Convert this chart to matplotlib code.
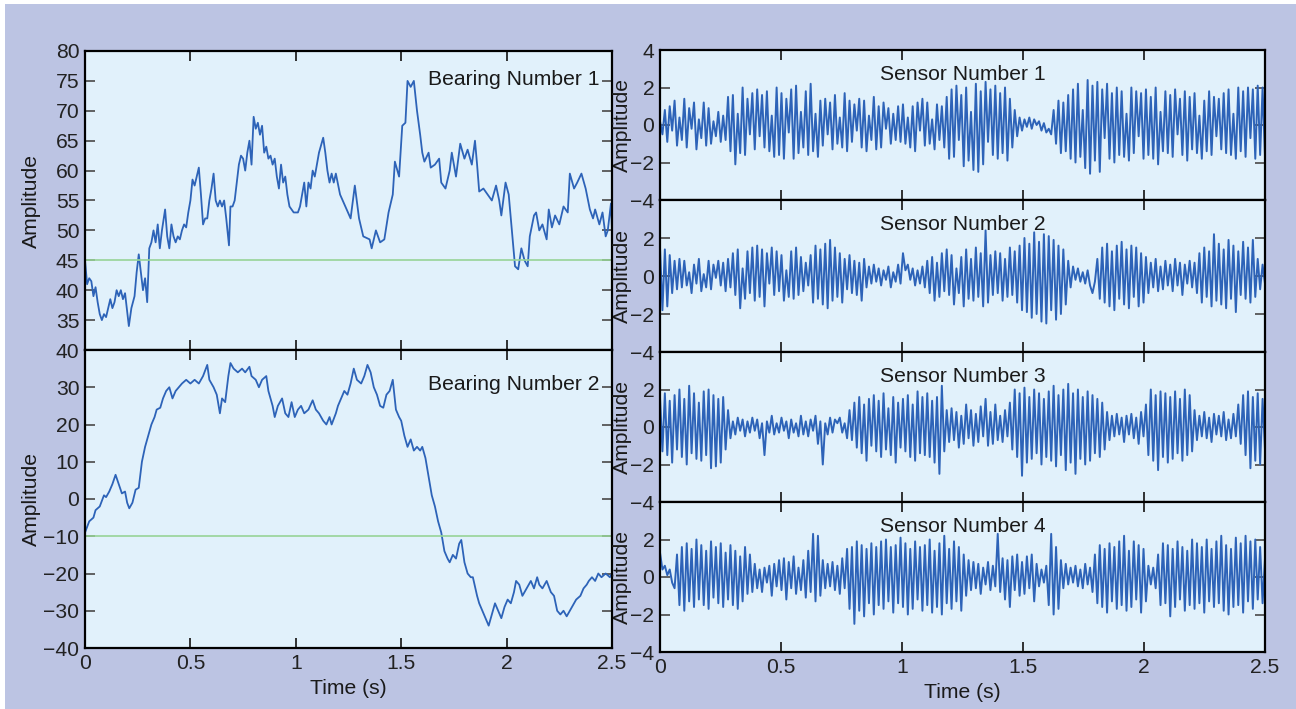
import matplotlib.pyplot as plt
import numpy as np
from matplotlib.patches import Rectangle

# leituras da figura: (tempo, amplitude)
bearing1 = [
    (0.00, 45), (0.01, 41), (0.02, 42), (0.03, 41.5), (0.04, 39), (0.05, 40.5), (0.06, 38), (0.07, 36),
    (0.08, 35), (0.09, 36), (0.10, 35.5), (0.11, 37), (0.12, 38.5), (0.13, 37), (0.14, 38), (0.15, 40),
    (0.16, 39), (0.17, 40), (0.18, 38.5), (0.19, 39.5), (0.208, 34), (0.22, 37), (0.235, 39), (0.245, 43),
    (0.255, 46), (0.265, 43), (0.275, 40), (0.285, 42), (0.295, 38), (0.305, 47), (0.315, 48), (0.325, 50),
    (0.335, 48), (0.345, 51), (0.355, 47), (0.365, 50), (0.38, 53.5), (0.39, 49), (0.40, 47), (0.41, 51),
    (0.42, 49), (0.43, 48), (0.44, 49), (0.45, 48.5), (0.46, 50), (0.47, 51), (0.48, 50.5), (0.49, 53),
    (0.50, 55), (0.51, 58.5), (0.52, 57.5), (0.53, 59), (0.54, 60.5), (0.55, 56), (0.56, 51), (0.57, 52),
    (0.58, 52), (0.59, 55), (0.60, 57), (0.61, 59.5), (0.62, 55), (0.63, 54), (0.64, 55), (0.65, 54),
    (0.66, 55), (0.67, 52), (0.683, 47.5), (0.69, 54), (0.70, 54), (0.71, 55), (0.72, 58), (0.73, 61),
    (0.74, 62.5), (0.75, 62), (0.76, 60), (0.77, 63), (0.78, 65), (0.79, 61), (0.80, 69), (0.81, 67),
    (0.82, 68), (0.83, 66), (0.84, 67.5), (0.85, 63), (0.86, 64), (0.87, 62), (0.88, 62.5), (0.89, 61),
    (0.90, 62), (0.91, 59), (0.92, 57), (0.93, 61), (0.94, 58), (0.95, 59), (0.96, 56), (0.97, 54),
    (0.99, 53), (1.01, 53), (1.02, 54), (1.03, 56), (1.04, 58), (1.05, 54), (1.06, 58), (1.07, 57),
    (1.08, 60), (1.09, 59), (1.10, 61), (1.11, 63), (1.13, 65.5), (1.14, 63), (1.15, 60), (1.16, 58),
    (1.17, 59.5), (1.18, 58), (1.19, 59.5), (1.21, 56), (1.235, 54), (1.26, 52), (1.28, 57.5), (1.30, 52),
    (1.32, 49), (1.35, 48.5), (1.36, 47), (1.38, 50), (1.40, 48), (1.42, 48.5), (1.44, 53), (1.46, 56),
    (1.47, 61.5), (1.49, 59), (1.505, 67.5), (1.52, 68), (1.53, 75), (1.545, 74), (1.56, 75), (1.575, 70),
    (1.59, 66), (1.60, 63), (1.61, 61.5), (1.63, 63), (1.64, 60.5), (1.66, 61), (1.68, 62), (1.69, 58),
    (1.71, 57), (1.73, 60), (1.74, 63), (1.76, 59), (1.78, 64.5), (1.80, 62), (1.815, 63.5), (1.835, 61),
    (1.85, 65), (1.86, 61), (1.87, 56.5), (1.89, 57), (1.91, 56), (1.93, 55), (1.95, 57.5), (1.965, 55),
    (1.975, 52.5), (1.995, 58), (2.01, 56), (2.03, 48), (2.04, 44), (2.055, 43.5), (2.07, 47), (2.085, 45),
    (2.10, 44), (2.11, 49), (2.13, 52.5), (2.14, 53), (2.155, 50), (2.17, 51), (2.19, 48.5), (2.20, 53.5),
    (2.215, 50.5), (2.23, 52.5), (2.25, 51), (2.27, 54), (2.29, 53), (2.30, 59.5), (2.32, 57), (2.335, 58),
    (2.355, 59.5), (2.375, 57), (2.395, 53.5), (2.41, 52), (2.42, 53.5), (2.44, 51), (2.455, 53), (2.47, 49),
    (2.48, 50), (2.495, 54.5), (2.50, 50),
]

bearing2 = [
    (0.00, -9), (0.02, -6), (0.04, -5), (0.05, -3), (0.07, -2), (0.09, 1), (0.10, 0.5), (0.115, 2),
    (0.13, 4), (0.145, 6.5), (0.16, 4), (0.175, 1.5), (0.19, 2), (0.20, -1), (0.21, -2.5), (0.225, -1),
    (0.24, 2.5), (0.255, 3), (0.27, 10), (0.285, 14), (0.30, 17), (0.315, 20), (0.33, 22), (0.34, 24),
    (0.357, 24.5), (0.37, 27), (0.385, 29), (0.40, 30), (0.415, 27), (0.43, 29), (0.445, 30), (0.46, 31),
    (0.48, 32), (0.50, 31), (0.52, 32), (0.54, 31), (0.56, 33), (0.58, 36), (0.59, 32), (0.61, 30),
    (0.625, 28), (0.64, 23), (0.65, 27), (0.665, 26), (0.68, 33), (0.69, 36.5), (0.705, 35), (0.725, 34),
    (0.745, 35), (0.76, 34), (0.78, 35.5), (0.79, 33), (0.81, 32), (0.825, 30), (0.84, 32), (0.86, 33),
    (0.87, 29), (0.89, 25), (0.90, 22), (0.915, 25), (0.935, 27), (0.95, 23), (0.965, 22), (0.98, 26),
    (0.995, 22), (1.01, 24), (1.025, 25), (1.04, 23), (1.06, 24), (1.08, 26.5), (1.095, 24), (1.11, 23),
    (1.13, 21), (1.145, 20), (1.16, 22), (1.17, 20), (1.19, 23), (1.20, 25), (1.215, 27), (1.23, 29),
    (1.245, 28), (1.26, 31), (1.275, 35), (1.29, 32), (1.31, 31), (1.325, 33), (1.34, 36), (1.355, 34),
    (1.37, 30), (1.385, 28), (1.40, 25), (1.415, 24.5), (1.43, 28), (1.445, 29), (1.46, 32), (1.475, 24),
    (1.49, 22), (1.50, 21), (1.515, 17), (1.53, 14), (1.545, 16), (1.56, 13), (1.575, 14), (1.59, 13),
    (1.60, 14), (1.615, 11), (1.63, 6), (1.645, 1), (1.66, -2), (1.675, -6), (1.69, -9), (1.705, -14),
    (1.72, -16), (1.73, -17), (1.745, -15), (1.76, -16), (1.775, -12), (1.785, -11), (1.80, -17), (1.815, -20),
    (1.83, -21), (1.84, -21), (1.86, -26), (1.87, -28), (1.885, -30), (1.90, -32), (1.915, -34), (1.93, -31),
    (1.945, -28), (1.96, -30), (1.975, -32), (1.99, -29), (2.005, -27), (2.02, -28), (2.035, -25), (2.045, -22),
    (2.06, -23), (2.075, -26), (2.095, -24), (2.115, -22), (2.13, -24), (2.145, -21), (2.155, -23), (2.17, -24),
    (2.19, -22), (2.21, -25), (2.225, -26), (2.24, -30), (2.255, -31), (2.27, -30), (2.285, -31.5), (2.30, -30),
    (2.31, -29), (2.33, -27), (2.35, -26), (2.365, -24), (2.38, -23), (2.39, -22), (2.405, -21), (2.42, -22),
    (2.435, -20), (2.45, -21), (2.47, -20), (2.49, -21), (2.50, -20),
]

limiar_b1 = 45
limiar_b2 = -10

# sensores: amostras, 10 por cada 0.1 s
sensor1 = [
    0.2, -0.5, 0.8, -0.9, 1.0, -0.3, 1.3, -1.1, 0.4, -0.8,
    1.4, -1.2, 0.9, -0.2, 1.2, -1.3, 0.3, -0.7, 1.2, -1.1,
    0.9, -1.0, 0.2, -0.6, 0.7, -0.9, 0.5, -0.8, 1.5, -1.4,
    1.6, -2.1, 0.6, -1.5, 2.0, -1.6, 1.4, -0.5, 1.7, -1.3,
    1.9, -0.6, 1.6, -1.2, 1.8, -1.4, 0.5, -1.7, 2.0, -1.6,
    1.7, -1.8, 1.4, -0.4, 1.9, -1.8, 2.1, -1.5, 0.7, -1.2,
    1.8, -1.6, 2.2, -1.4, 0.6, -1.7, 1.3, -1.1, 1.4, -0.5,
    1.2, -1.3, 1.6, -1.0, 0.4, -1.2, 1.7, -1.4, 1.3, -0.9,
    1.1, -0.3, 1.4, -1.2, 1.3, -1.4, 0.5, -0.8, 1.5, -1.3,
    1.0, -1.2, 1.2, -0.2, 0.9, -1.0, 0.6, -0.8, 1.0, -0.9,
    1.1, -1.0, 0.4, -1.2, 1.0, -1.4, 1.2, -0.3, 1.4, -1.1,
    1.2, -1.0, 0.3, -1.3, 1.1, -0.8, 1.0, -1.2, 1.5, -1.8,
    1.9, -1.7, 2.1, -0.8, 1.6, -2.2, 2.0, -1.9, 0.7, -2.4,
    2.2, -2.5, 1.8, -2.1, 2.3, -0.9, 1.9, -1.6, 2.1, -1.8,
    1.7, -1.5, 2.0, -1.9, 1.4, -1.2, 0.8, -0.6, 0.4, -0.3,
    0.3, -0.1, 0.4, -0.2, 0.3, 0.0, 0.2, -0.3, 0.1, -0.4,
    -0.2, -0.5, 0.8, -1.0, 1.3, -1.5, 1.2, -1.4, 1.6, -1.8,
    1.9, -2.0, 2.2, -1.7, 0.8, -2.3, 2.4, -2.6, 2.1, -1.9,
    2.3, -2.5, 1.9, -0.7, 2.2, -1.8, 1.7, -2.0, 2.0, -1.6,
    1.8, -1.7, 0.6, -1.9, 2.0, -1.5, 1.8, -0.6, 1.7, -1.8,
    1.9, -1.6, 1.5, -1.8, 2.0, -2.1, 0.7, -1.4, 1.8, -1.5,
    1.6, -1.7, 1.9, -0.5, 1.4, -1.6, 1.8, -1.9, 1.5, -1.3,
    1.7, -1.5, 0.5, -1.8, 1.3, -1.4, 1.8, -1.6, 1.5, -0.6,
    1.4, -1.3, 1.7, -1.5, 1.9, -1.6, 0.6, -1.8, 2.0, -1.4,
    1.8, -1.7, 2.0, -0.7, 1.9, -1.8, 2.1, -1.6, 2.0, -1.7,
]

sensor2 = [
    1.5, -1.8, 1.4, -1.6, 1.1, -0.9, 0.8, -0.7, 0.9, -0.6,
    0.8, -0.5, 0.2, -0.9, 0.6, -0.4, 0.9, -0.8, 0.1, -0.6,
    0.8, -0.7, 0.6, -0.1, 0.8, -0.5, 0.7, -0.8, 0.9, -0.6,
    1.2, -1.0, 1.4, -1.7, 0.4, -1.2, 1.3, -0.9, 1.5, -1.3,
    1.6, -1.1, 1.4, -1.6, 1.2, -0.4, 1.5, -1.0, 1.3, -0.8,
    1.1, -1.3, 0.3, -1.1, 1.3, -1.2, 1.5, -1.0, 1.0, -0.8,
    0.7, -0.5, 1.1, -1.4, 1.6, -1.2, 1.4, -1.5, 1.7, -1.7,
    1.9, -1.3, 1.5, -1.1, 1.2, -1.4, 0.9, -0.7, 1.1, -0.9,
    0.8, -1.0, 0.7, -1.3, 0.9, -0.6, 0.5, -0.4, 0.6, -0.3,
    0.4, -0.5, 0.3, -0.2, 0.5, -0.6, 0.2, -0.3, 0.6, -0.4,
    1.2, 0.3, 0.6, -0.2, 0.4, -0.5, 0.3, -0.4, 0.5, -0.6,
    0.8, -0.9, 1.0, -1.3, 0.7, -1.1, 1.2, -0.8, 1.4, -1.0,
    1.1, -1.5, 0.4, -0.9, 1.0, -1.6, 1.4, -1.2, 0.9, -1.3,
    1.5, -1.1, 1.2, -1.6, 2.4, -1.4, 1.1, -1.0, 1.3, -0.9,
    1.2, -1.3, 0.9, -1.1, 1.5, -1.0, 1.3, -1.4, 1.6, -1.8,
    2.0, -1.9, 1.7, -2.2, 2.3, -2.0, 1.8, -2.4, 2.2, -2.5,
    2.1, -1.8, 1.9, -2.3, 1.6, -2.0, 1.4, -1.5, 0.8, -0.6,
    0.5, -0.2, 0.4, -0.3, 0.2, -0.4, 0.3, -0.5, -0.9, -0.3,
    0.9, -1.2, 1.5, -1.4, 1.7, -1.6, 1.3, -1.8, 1.6, -1.2,
    1.8, -1.5, 1.4, -1.7, 1.6, -1.1, 1.5, -1.6, 1.2, -1.4,
    1.0, -0.9, 0.7, -0.6, 0.9, -0.8, 0.5, -0.7, 0.8, -0.5,
    0.6, -0.8, 0.9, -0.5, 0.7, -1.0, 0.6, -0.4, 0.8, -0.6,
    0.7, -0.9, 1.2, -1.4, 1.5, -1.1, 1.3, -1.6, 2.2, -1.3,
    1.7, -1.5, 1.4, -1.7, 1.9, -1.2, 1.6, -1.9, 1.3, -1.0,
    1.8, -1.2, 1.5, -1.4, 1.9, -1.1, 0.9, -0.7, 0.6, -0.4,
]

sensor3 = [
    1.6, -1.3, 1.8, -1.5, 1.4, -1.9, 1.7, -1.2, 2.0, -1.6,
    1.5, -2.0, 2.2, -1.4, 1.8, -1.7, 1.3, -1.8, 1.9, -1.5,
    2.0, -2.2, 1.7, -2.1, 1.5, -1.9, 1.6, -1.2, 0.9, -0.6,
    0.3, -0.4, 0.5, -0.2, 0.4, -0.5, 0.3, -0.3, 0.5, -0.2,
    0.4, -0.6, 0.2, -1.5, 0.3, -0.3, 0.6, -0.4, 0.2, -0.3,
    0.5, -0.2, 0.3, -0.6, 0.4, -0.3, 0.2, -0.5, 0.6, -0.4,
    0.3, -0.5, 0.4, -0.2, 0.6, -0.9, 0.3, -2.0, 0.2, -0.4,
    0.5, -0.3, 0.4, 0.2, 0.5, -0.3, 0.2, -0.6, 0.9, -0.7,
    1.3, -1.1, 1.6, -1.4, 1.2, -1.8, 1.5, -1.0, 1.7, -1.3,
    1.4, -1.6, 1.8, -1.2, 1.0, -1.5, 1.6, -1.9, 1.3, -1.1,
    1.5, -1.3, 1.7, -1.6, 1.2, -1.8, 1.9, -1.4, 1.6, -1.5,
    1.8, -1.6, 1.4, -1.9, 1.6, -2.5, 2.2, -1.3, 0.9, -0.8,
    1.0, -0.7, 0.8, -1.1, 0.6, -0.9, 1.2, -0.6, 0.9, -1.0,
    0.7, -0.8, 1.1, -0.5, 1.5, -1.0, 0.8, -0.9, 1.2, -0.7,
    0.6, -0.8, 0.9, -0.5, 1.3, -1.2, 2.0, -1.6, 1.8, -2.6,
    2.1, -1.9, 1.6, -1.7, 2.0, -1.4, 1.8, -2.0, 1.5, -1.6,
    1.9, -1.8, 2.2, -2.1, 1.7, -1.5, 2.0, -2.3, 2.3, -1.9,
    1.8, -2.5, 2.0, -1.7, 1.6, -2.0, 1.9, -1.8, 1.7, -1.4,
    1.5, -1.6, 1.3, -1.2, 0.8, -0.7, 0.6, -0.5, 0.7, -0.4,
    0.5, -0.8, 0.6, -0.4, 0.7, -0.6, 0.5, -0.9, 0.8, -0.5,
    1.2, -1.5, 2.0, -1.8, 1.7, -2.3, 1.9, -1.6, 1.8, -1.9,
    1.6, -1.7, 1.9, -1.4, 1.5, -1.8, 2.0, -1.5, 1.7, -1.3,
    0.9, -0.7, 0.6, -0.5, 0.8, -0.6, 0.5, -0.8, 0.7, -0.4,
    0.6, -0.5, 0.8, -0.7, 0.4, -0.6, 0.7, -0.5, 1.2, -0.9,
    1.7, -1.5, 1.9, -2.2, 1.6, -1.8, 1.8, -2.0, 1.5, -1.2,
]

sensor4 = [
    1.3, 0.4, 0.6, 0.1, 0.4, -0.3, -0.6, 1.2, -1.5, 1.6,
    -1.8, 1.8, -1.3, 1.5, -1.6, 2.0, -1.2, 1.7, -1.5, 1.4,
    -1.7, 1.9, -1.1, 1.6, -1.4, 1.8, -1.6, 1.3, -1.2, 1.7,
    -1.5, 1.4, -1.7, 1.1, -1.3, 1.6, -0.9, 1.2, -0.8, 0.7,
    -0.6, 0.4, -0.8, 0.5, -0.3, 0.6, -1.0, 0.7, -0.5, 0.9,
    -0.7, 1.0, -1.2, 0.8, -0.6, 1.1, -0.9, 0.5, -0.7, 0.9,
    -1.1, 1.4, -0.8, 2.3, -1.3, 2.2, -1.0, 0.9, -0.6, 0.7,
    -0.5, 0.8, -0.7, 0.6, -0.9, 1.0, -0.6, 1.5, -1.7, 1.6,
    -2.5, 1.9, -1.8, 1.7, -2.1, 1.5, -1.4, 1.8, -2.0, 1.6,
    -1.5, 1.9, -1.7, 2.0, -1.3, 1.6, -1.9, 1.7, -1.4, 2.1,
    -1.6, 1.8, -2.0, 1.5, -1.7, 1.9, -1.2, 1.6, -1.8, 1.7,
    -1.5, 2.0, -1.9, 1.4, -1.6, 1.8, -2.0, 2.2, -1.4, 1.5,
    -1.7, 1.9, -1.3, 1.6, -1.8, 1.2, -1.0, 0.9, -0.7, 0.8,
    -0.6, 0.7, -0.9, 0.5, -0.4, 0.8, -0.7, 0.6, -0.5, 2.3,
    -0.8, 1.0, -1.2, 0.9, -1.6, 1.1, -0.7, 1.2, -1.0, 0.8,
    -0.9, 1.1, -0.6, 1.2, -1.3, 0.7, -0.5, 0.4, -0.3, 0.6,
    -1.5, 2.3, -2.0, 1.6, -1.7, 0.9, -0.6, 0.7, -0.4, 0.5,
    -0.3, 0.6, -0.5, 0.4, -0.6, 0.7, -0.4, 0.5, -0.8, 1.2,
    -1.4, 1.7, -1.6, 1.5, -1.9, 1.8, -1.3, 1.6, -1.7, 1.9,
    -1.5, 2.2, -1.8, 1.4, -1.6, 1.9, -1.2, 1.7, -1.9, 1.5,
    -1.3, 0.6, -0.4, 0.5, -0.6, 1.2, -1.5, 1.8, -1.4, 1.7,
    -2.1, 1.5, -1.6, 1.9, -1.2, 1.6, -1.8, 1.4, -1.5, 2.0,
    -1.7, 1.8, -1.4, 1.6, -1.9, 2.0, -1.3, 1.5, -1.6, 1.9,
    -1.4, 2.2, -1.8, 1.7, -2.0, 1.5, -1.6, 2.1, -1.5, 1.8,
    -1.9, 2.2, -1.3, 1.9, -1.7, 2.0, -1.2, 1.6, -1.4, 1.0,
]

x_ticks = [0, 0.5, 1, 1.5, 2, 2.5]
x_tick_labels = ['0', '0.5', '1', '1.5', '2', '2.5']


def gerar_grafico():
    plt.rcParams['font.family'] = ['Liberation Sans', 'DejaVu Sans']
    plt.rcParams['axes.unicode_minus'] = True

    cor_fundo = '#bcc4e3'
    cor_eixo = '#e1f1fb'
    cor_linha = '#2d63b8'
    cor_limiar = '#97d497'
    cor_texto = '#1a1a1a'
    fs = 15.2

    fig = plt.figure(figsize=(12.96, 7.09), dpi=100)
    fig.patch.set_facecolor('white')
    fig.add_artist(Rectangle((0.004, 0), 0.996, 0.995, transform=fig.transFigure,
                             facecolor=cor_fundo, edgecolor='none', zorder=-10))

    W, H = 1296, 709

    def caixa(x0, x1, y0, y1):
        return [x0 / W, 1 - y1 / H, (x1 - x0) / W, (y1 - y0) / H]

    def estilo(ax, mostrar_x):
        ax.set_facecolor(cor_eixo)
        for s in ax.spines.values():
            s.set_linewidth(1.6)
            s.set_color('black')
        ax.set_xlim(0, 2.5)
        ax.set_xticks(x_ticks)
        ax.tick_params(direction='in', top=True, right=True, length=7, width=1.3,
                       labelsize=fs, colors='#222222', pad=4)
        ax.tick_params(axis='y', which='both', right=True, color='#555555')
        if mostrar_x:
            ax.set_xticklabels(x_tick_labels)
            ax.set_xlabel('Time (s)', fontsize=fs, color=cor_texto, labelpad=5)
        else:
            ax.tick_params(labelbottom=False)

    # ---- lado esquerdo: rolamentos ----
    b1 = np.array(bearing1).T
    b2 = np.array(bearing2).T

    ax1 = fig.add_axes(caixa(85, 612, 51, 350))
    ax1.plot(b1[0], b1[1], color=cor_linha, lw=1.3)
    ax1.axhline(limiar_b1, color=cor_limiar, lw=1.2)
    ax1.set_ylim(30, 80)
    ax1.set_yticks(range(35, 81, 5))
    estilo(ax1, False)
    ax1.set_ylabel('Amplitude', fontsize=fs, color=cor_texto)
    ax1.yaxis.set_label_coords(-0.083, 0.5)
    ax1.text(0.977, 0.905, 'Bearing Number 1', transform=ax1.transAxes, ha='right',
             va='center', fontsize=fs, color=cor_texto)

    ax2 = fig.add_axes(caixa(85, 612, 350, 648))
    ax2.plot(b2[0], b2[1], color=cor_linha, lw=1.3)
    ax2.axhline(limiar_b2, color=cor_limiar, lw=1.2)
    ax2.set_ylim(-40, 40)
    ax2.set_yticks(range(-40, 41, 10))
    estilo(ax2, True)
    ax2.set_ylabel('Amplitude', fontsize=fs, color=cor_texto)
    ax2.yaxis.set_label_coords(-0.083, 0.5)
    ax2.text(0.977, 0.885, 'Bearing Number 2', transform=ax2.transAxes, ha='right',
             va='center', fontsize=fs, color=cor_texto)

    # ---- lado direito: sensores ----
    sensores = [sensor1, sensor2, sensor3, sensor4]
    topos = [50, 200, 352, 502]
    fundos = [200, 352, 502, 652]
    for i, sinal in enumerate(sensores):
        ax = fig.add_axes(caixa(660, 1265, topos[i], fundos[i]))
        t = np.linspace(0, 2.5, len(sinal))
        ax.plot(t, sinal, color=cor_linha, lw=1.4)
        ax.set_ylim(-4, 4)
        if i == 0:
            ax.set_yticks([-4, -2, 0, 2, 4])
        else:
            ax.set_yticks([-4, -2, 0, 2])
        estilo(ax, i == 3)
        ax.set_ylabel('Amplitude', fontsize=fs, color=cor_texto)
        ax.yaxis.set_label_coords(-0.046, 0.5)
        ax.text(0.5, 0.84, 'Sensor Number %d' % (i + 1), transform=ax.transAxes,
                ha='center', va='center', fontsize=fs, color=cor_texto)

    plt.savefig('out.png', dpi=100, facecolor=fig.get_facecolor())


if __name__ == "__main__":
    gerar_grafico()
